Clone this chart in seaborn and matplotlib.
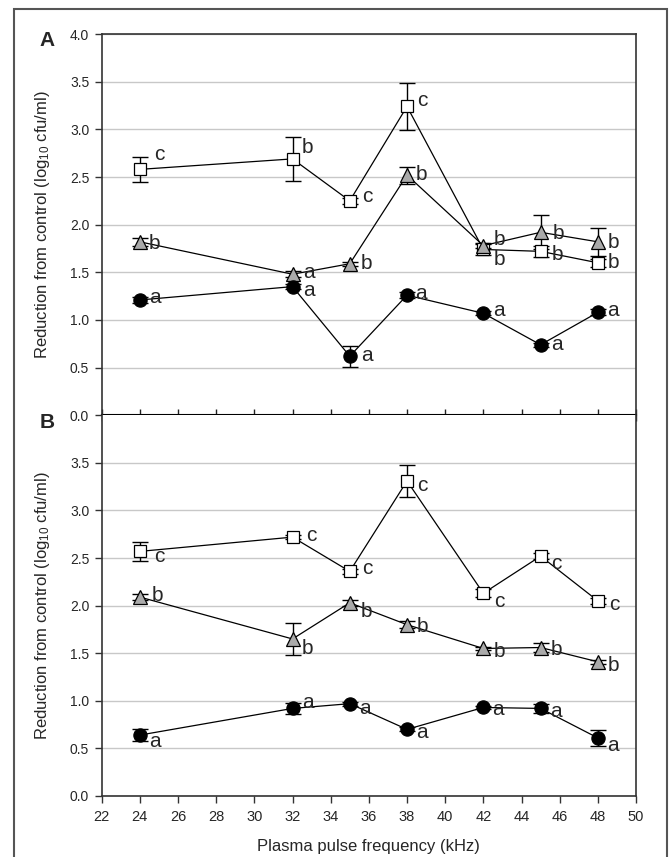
# %%
import numpy as np
import pandas as pd
import matplotlib
matplotlib.use("Agg")
import matplotlib.pyplot as plt
import seaborn as sns
from matplotlib.patches import Rectangle

# %%
# data (mean reduction, log10 cfu/ml, and SE)
freq = [24, 32, 35, 38, 42, 45, 48]

# panel A
a_square = [2.58, 2.69, 2.25, 3.24, 1.74, 1.72, 1.60]
a_square_err = [0.13, 0.23, 0.03, 0.25, 0.06, 0.06, 0.04]
a_square_lab = ["c", "b", "c", "c", "b", "b", "b"]
a_tri = [1.82, 1.48, 1.59, 2.52, 1.78, 1.92, 1.82]
a_tri_err = [0.04, 0.03, 0.02, 0.09, 0.03, 0.18, 0.15]
a_tri_lab = ["b", "a", "b", "b", "b", "b", "b"]
a_circ = [1.21, 1.35, 0.62, 1.26, 1.07, 0.74, 1.08]
a_circ_err = [0.03, 0.03, 0.11, 0.03, 0.02, 0.02, 0.03]
a_circ_lab = ["a", "a", "a", "a", "a", "a", "a"]

# panel B
b_square = [2.57, 2.72, 2.36, 3.31, 2.13, 2.52, 2.05]
b_square_err = [0.10, 0.02, 0.03, 0.17, 0.04, 0.03, 0.03]
b_square_lab = ["c", "c", "c", "c", "c", "c", "c"]
b_tri = [2.09, 1.65, 2.03, 1.80, 1.55, 1.56, 1.41]
b_tri_err = [0.03, 0.17, 0.03, 0.04, 0.02, 0.05, 0.02]
b_tri_lab = ["b", "b", "b", "b", "b", "b", "b"]
b_circ = [0.64, 0.92, 0.97, 0.70, 0.93, 0.92, 0.61]
b_circ_err = [0.06, 0.06, 0.02, 0.02, 0.02, 0.05, 0.08]
b_circ_lab = ["a", "a", "a", "a", "a", "a", "a"]

# letter offsets in pixels (dx, dy; dy positive = down)
a_square_off = [(19, -15), (15, -11), (18, -4), (15, -6), (16, 10), (17, 3), (16, 0)]
a_tri_off = [(15, 2), (16, -2), (17, 0), (14, -1), (16, -6), (18, 1), (16, 1)]
a_circ_off = [(15, -2), (16, 4), (17, -1), (14, -2), (16, -3), (16, 0), (15, -2)]
b_square_off = [(19, 5), (19, -2), (18, -3), (15, 5), (16, 8), (16, 7), (16, 4)]
b_tri_off = [(18, -2), (15, 10), (17, 9), (15, 2), (16, 3), (16, 2), (16, 4)]
b_circ_off = [(15, 6), (15, -6), (15, 5), (15, 3), (15, 2), (15, 3), (15, 8)]

# %%
sns.set_style("white")
plt.rcParams["font.family"] = ["Liberation Sans", "DejaVu Sans"]
plt.rcParams["mathtext.fontset"] = "custom"
plt.rcParams["mathtext.rm"] = "Liberation Sans"
plt.rcParams["mathtext.it"] = "Liberation Sans"

fig = plt.figure(figsize=(6.69, 8.57), dpi=100)
ax_a = fig.add_axes([0.1520, 0.5154, 0.7987, 0.4449])
ax_b = fig.add_axes([0.1520, 0.0712, 0.7987, 0.4442])

styles = {
    "square": dict(marker="s", mfc="white", ms=8.2),
    "tri": dict(marker="^", mfc="#aaaaaa", ms=9.5),
    "circ": dict(marker="o", mfc="black", ms=9.5),
}

panels = [
    (ax_a, [("square", a_square, a_square_err, a_square_lab, a_square_off),
            ("tri", a_tri, a_tri_err, a_tri_lab, a_tri_off),
            ("circ", a_circ, a_circ_err, a_circ_lab, a_circ_off)]),
    (ax_b, [("square", b_square, b_square_err, b_square_lab, b_square_off),
            ("tri", b_tri, b_tri_err, b_tri_lab, b_tri_off),
            ("circ", b_circ, b_circ_err, b_circ_lab, b_circ_off)]),
]

for ax, series in panels:
    for name, vals, err, labs, offs in series:
        st = styles[name]
        ax.errorbar(freq, vals, yerr=err, fmt="none", ecolor="black",
                    elinewidth=1, capsize=5.5, capthick=1, zorder=2)
        df = pd.DataFrame({"freq": freq, "val": vals})
        sns.lineplot(data=df, x="freq", y="val", ax=ax, color="black",
                     linewidth=0.9, marker=st["marker"], markersize=st["ms"],
                     markerfacecolor=st["mfc"], markeredgecolor="black",
                     markeredgewidth=0.9, zorder=3)
        for x, y, lab, (dx, dy) in zip(freq, vals, labs, offs):
            ax.annotate(lab, (x, y), xytext=(dx, -dy), textcoords="offset pixels",
                        ha="center", va="center", fontsize=15, zorder=4)

    ax.set_xlim(22, 50)
    ax.set_ylim(0, 4)
    ax.set_xticks(np.arange(22, 51, 2))
    ax.yaxis.grid(True, color="#c8c8c8", linewidth=1)
    ax.set_axisbelow(True)
    ax.set_xlabel("")
    ax.set_ylabel("Reduction from control (log$_{10}$ cfu/ml)", fontsize=12)
    ax.yaxis.set_label_coords(-0.093, 0.5)
    ax.tick_params(axis="y", direction="out", length=5, width=1, labelsize=10,
                   pad=4, left=True, color="#333333")
    for side in ["left", "right", "top", "bottom"]:
        ax.spines[side].set_color("#333333")
        ax.spines[side].set_linewidth(1.2)

ax_a.set_yticks(np.arange(0, 4.01, 0.5))
ax_a.set_yticklabels([f"{v:.1f}" for v in np.arange(0, 4.01, 0.5)])
ax_a.tick_params(axis="x", direction="inout", length=9, width=1, labelbottom=False,
                 bottom=True, color="#222222")
ax_a.spines["bottom"].set_color("black")
ax_a.spines["bottom"].set_linewidth(1.5)

ax_b.set_yticks(np.arange(0, 3.51, 0.5))
ax_b.set_yticklabels([f"{v:.1f}" for v in np.arange(0, 3.51, 0.5)])
ax_b.tick_params(axis="x", direction="out", length=5, width=1, labelsize=10.5,
                 pad=5, bottom=True, color="#333333")
ax_b.spines["top"].set_visible(False)
ax_b.set_xlabel("Plasma pulse frequency (kHz)", fontsize=12, labelpad=11)

fig.text(47 / 669, 1 - 40 / 857, "A", fontsize=15, fontweight="bold",
         ha="center", va="center")
fig.text(47 / 669, 1 - 423 / 857, "B", fontsize=15, fontweight="bold",
         ha="center", va="center")

# outer frame around the figure
fig.patches.append(Rectangle((14 / 669, -0.02), (667 - 14) / 669, 1 - 9 / 857 + 0.02,
                             transform=fig.transFigure, fill=False,
                             edgecolor="#555555", linewidth=1.5))

fig.savefig("out.png", dpi=100)
